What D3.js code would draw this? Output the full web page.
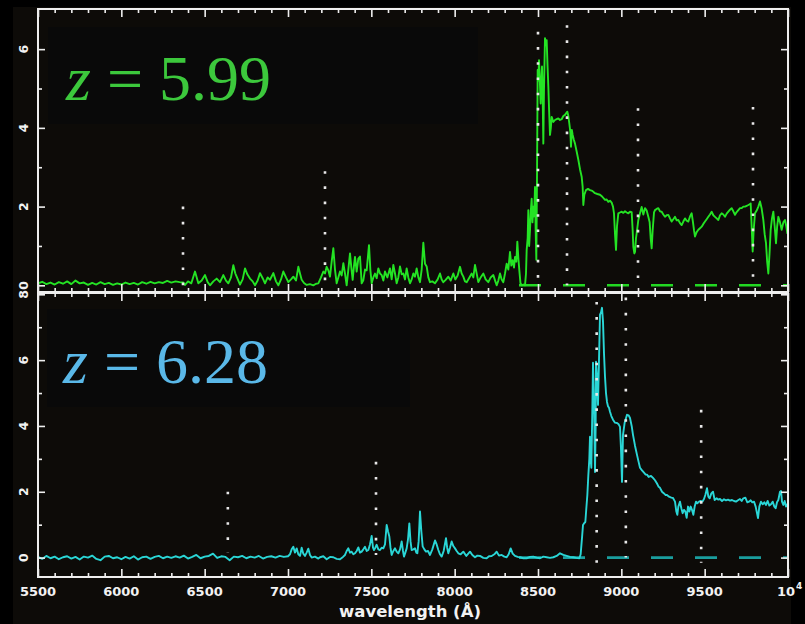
<!DOCTYPE html>
<html><head><meta charset="utf-8">
<script src="https://cdn.jsdelivr.net/npm/d3@7"></script>
<style>html,body{margin:0;padding:0;background:#000;}svg{display:block;}</style>
</head><body>
<svg id="chart" width="805" height="624"></svg>
<script>
// ---------------- DATA ----------------
const xMajorTicks = [5500, 6000, 6500, 7000, 7500, 8000, 8500, 9000, 9500, 10000];
const xTickLabels = ["5500", "6000", "6500", "7000", "7500", "8000", "8500", "9000", "9500", "10"];
const yTopMajor = [0, 2, 4, 6];
const yTopMinor = [1, 3, 5];
const yBotMajor = [0, 2, 4, 6, 8];
const yBotMinor = [1, 3, 5, 7];
const labelTop = {z: "z", rest: " = 5.99"};
const labelBot = {z: "z", rest: " = 6.28"};
const xTitle = "wavelength (Å)";

// spectral-line markers: [wavelength, bottom flux, top flux]
const linesTop = [[6370, 0.0, 2.0], [7222, 0.0, 2.9], [8500, 0.15, 6.44], [8674, 0.0, 6.61], [9100, 0.1, 4.5], [9790, 0.0, 4.53]];
const linesBot = [[6639, 0.15, 2.0], [7528, 0.08, 2.91], [8852, -0.16, 7.77], [9027, 0.0, 7.9], [9479, -0.16, 4.49]];
// zero-level dashed segment
const zeroTop = [[8386, 0], [10000, 0]];
const zeroBot = [[8386, 0], [10000, 0]];

// z = 5.99 spectrum: [wavelength (Å), flux]
const specTop = [
[5500,0.05],[5525,0.09],[5550,0.03],[5575,0.07],[5600,0.02],[5625,0.08],[5650,0.04],[5675,0.10],[5700,0.03],[5725,0.12],[5750,0.05],[5775,0.07],[5800,0.01],[5825,0.06],[5850,0.02],[5875,0.08],[5900,0.03],[5925,0.06],[5950,0.01],[5975,0.05],[6000,0.02],[6025,0.07],[6050,0.03],[6075,0.06],[6100,0.02],[6125,0.08],[6150,0.04],[6175,0.09],[6200,0.05],[6225,0.08],[6250,0.06],[6275,0.11],[6300,0.07],[6325,0.10],[6350,0.08],[6372,0.07],[6382,0.01],[6400,0.10],[6420,0.05],[6442,0.35],[6462,0.05],[6482,0.12],[6502,0.26],[6518,0.08],[6532,0.00],[6552,0.10],[6572,0.17],[6592,0.08],[6612,0.26],[6628,0.12],[6642,0.05],[6658,0.20],[6672,0.51],[6684,0.30],[6692,0.22],[6712,0.02],[6728,0.15],[6742,0.43],[6756,0.28],[6772,0.17],[6788,0.10],[6802,0.00],[6818,0.12],[6832,0.31],[6848,0.18],[6862,0.05],[6878,0.20],[6892,0.14],[6912,0.31],[6928,0.10],[6942,0.00],[6958,0.15],[6972,0.35],[6988,0.20],[7002,0.08],[7018,0.15],[7032,0.22],[7048,0.12],[7062,0.47],[7072,0.30],[7082,0.14],[7096,0.06],[7112,0.01],[7132,0.03],[7152,0.00],[7168,0.04],[7182,0.05],[7198,0.20],[7212,0.35],[7222,0.30],[7232,0.47],[7242,0.38],[7252,0.22],[7262,0.60],[7272,0.94],[7282,0.40],[7292,0.05],[7302,0.20],[7312,0.35],[7322,0.25],[7332,0.56],[7342,0.30],[7352,0.00],[7362,0.40],[7372,0.81],[7380,0.45],[7388,0.14],[7396,0.50],[7402,0.72],[7412,0.35],[7422,0.68],[7432,0.73],[7442,0.05],[7452,0.13],[7462,0.40],[7472,0.38],[7486,1.02],[7494,0.40],[7502,0.05],[7512,0.20],[7522,0.30],[7532,0.18],[7542,0.43],[7552,0.30],[7562,0.26],[7572,0.12],[7582,0.35],[7596,0.20],[7612,0.43],[7622,0.15],[7632,0.52],[7642,0.30],[7652,0.05],[7662,0.20],[7672,0.48],[7682,0.28],[7692,0.30],[7702,0.15],[7712,0.43],[7722,0.20],[7732,0.05],[7742,0.15],[7752,0.30],[7762,0.22],[7772,0.43],[7782,0.20],[7792,0.08],[7802,0.40],[7812,1.08],[7822,0.55],[7832,0.48],[7842,0.20],[7852,0.08],[7866,0.10],[7882,0.05],[7898,0.15],[7912,0.30],[7922,0.15],[7932,0.08],[7946,0.14],[7962,0.22],[7976,0.12],[7992,0.30],[8004,0.15],[8018,0.25],[8032,0.47],[8042,0.30],[8052,0.22],[8062,0.10],[8072,0.08],[8086,0.18],[8102,0.30],[8112,0.20],[8122,0.52],[8132,0.30],[8142,0.08],[8156,0.20],[8172,0.30],[8186,0.15],[8202,0.08],[8216,0.20],[8232,0.26],[8244,0.10],[8252,0.00],[8262,0.12],[8272,0.30],[8282,0.15],[8292,0.08],[8302,0.30],[8312,0.55],[8322,0.40],[8332,0.85],[8340,0.50],[8348,0.64],[8356,0.45],[8362,0.72],[8370,0.60],[8376,1.11],[8382,0.70],[8388,0.38],[8395,0.05],[8402,0.00],[8412,0.02],[8422,0.00],[8428,0.30],[8432,0.90],[8438,1.20],[8442,1.91],[8447,1.00],[8452,1.40],[8457,1.90],[8462,2.20],[8467,1.60],[8472,2.00],[8477,1.75],[8482,2.50],[8486,1.40],[8490,0.65],[8494,2.68],[8498,5.47],[8502,5.20],[8506,5.72],[8510,5.30],[8516,4.62],[8520,5.20],[8524,5.56],[8528,4.80],[8532,3.60],[8536,5.00],[8542,6.28],[8547,6.10],[8552,6.23],[8557,5.60],[8562,5.05],[8567,4.40],[8572,3.82],[8577,4.00],[8582,4.28],[8592,4.15],[8602,4.20],[8612,4.22],[8622,4.24],[8632,4.20],[8642,4.22],[8652,4.30],[8662,4.33],[8670,4.38],[8676,4.41],[8682,4.30],[8688,4.11],[8694,3.90],[8698,3.52],[8703,3.95],[8708,3.82],[8715,3.70],[8722,3.60],[8732,3.40],[8742,3.19],[8752,2.95],[8762,2.76],[8768,2.50],[8772,2.04],[8778,2.30],[8788,2.42],[8800,2.45],[8812,2.42],[8826,2.40],[8842,2.34],[8856,2.32],[8872,2.30],[8886,2.25],[8902,2.17],[8912,2.18],[8922,2.12],[8932,2.15],[8942,2.10],[8950,2.00],[8956,1.83],[8962,1.30],[8968,0.90],[8974,1.50],[8982,1.83],[8992,1.85],[9002,1.87],[9012,1.84],[9022,1.88],[9032,1.85],[9042,1.83],[9052,1.87],[9062,1.86],[9068,1.40],[9072,0.98],[9078,0.81],[9082,0.85],[9088,1.20],[9092,1.32],[9102,1.66],[9112,1.83],[9122,1.99],[9132,1.80],[9142,1.96],[9152,1.90],[9162,1.74],[9170,1.60],[9176,1.20],[9182,0.94],[9188,1.40],[9196,1.85],[9202,1.91],[9212,1.94],[9222,1.96],[9232,1.88],[9242,1.87],[9252,1.80],[9262,1.74],[9272,1.78],[9282,1.79],[9292,1.70],[9302,1.62],[9312,1.68],[9322,1.74],[9332,1.65],[9342,1.66],[9352,1.58],[9362,1.53],[9372,1.62],[9382,1.70],[9392,1.64],[9402,1.62],[9412,1.75],[9422,1.83],[9430,1.60],[9436,1.40],[9442,1.24],[9452,1.35],[9462,1.41],[9472,1.45],[9482,1.49],[9492,1.56],[9502,1.62],[9512,1.68],[9522,1.74],[9532,1.80],[9542,1.87],[9552,1.78],[9562,1.74],[9572,1.70],[9582,1.66],[9592,1.78],[9602,1.83],[9612,1.80],[9622,1.74],[9632,1.82],[9642,1.87],[9652,1.92],[9662,1.96],[9672,1.88],[9682,1.79],[9692,1.86],[9702,1.91],[9712,1.96],[9722,1.96],[9732,2.00],[9742,2.00],[9752,2.02],[9762,2.04],[9770,2.06],[9776,2.08],[9782,1.50],[9788,0.86],[9794,1.40],[9802,1.83],[9812,1.90],[9822,2.00],[9832,2.13],[9842,1.95],[9852,1.66],[9860,1.30],[9868,1.07],[9875,0.60],[9882,0.30],[9889,0.80],[9896,1.41],[9904,1.70],[9912,1.87],[9920,1.50],[9928,1.07],[9935,1.50],[9942,1.74],[9952,1.60],[9962,1.41],[9972,1.60],[9982,1.66],[9990,1.50],[9996,1.32],[10000,1.50]
];

// z = 6.28 spectrum: [wavelength (Å), flux]
const specBot = [
[5500,0.02],[5525,-0.04],[5550,0.05],[5575,-0.02],[5600,0.03],[5625,-0.05],[5650,0.01],[5675,0.04],[5700,-0.03],[5725,0.02],[5750,-0.06],[5775,0.03],[5800,0.00],[5825,0.06],[5850,-0.04],[5875,-0.08],[5900,0.03],[5925,0.05],[5950,-0.02],[5975,0.01],[6000,-0.05],[6025,0.02],[6050,-0.03],[6075,0.04],[6100,-0.06],[6125,0.01],[6150,0.03],[6175,-0.04],[6200,0.02],[6225,0.05],[6250,-0.02],[6275,0.03],[6300,-0.01],[6325,0.04],[6350,0.00],[6375,0.06],[6400,-0.03],[6425,0.02],[6450,0.08],[6475,-0.02],[6500,0.03],[6525,0.05],[6550,0.12],[6575,-0.01],[6600,0.04],[6625,0.02],[6650,-0.08],[6675,0.03],[6700,0.01],[6725,0.05],[6750,-0.02],[6775,0.03],[6800,0.00],[6825,0.05],[6850,-0.03],[6875,0.02],[6900,0.04],[6925,0.00],[6950,0.05],[6975,0.02],[7000,0.04],[7012,0.10],[7022,0.25],[7032,0.33],[7042,0.15],[7052,0.28],[7062,0.10],[7072,0.05],[7082,0.30],[7092,0.12],[7102,0.05],[7112,0.15],[7122,0.27],[7132,0.08],[7142,0.00],[7162,0.03],[7182,-0.03],[7192,0.01],[7212,0.04],[7232,-0.05],[7252,0.02],[7272,0.01],[7292,-0.04],[7312,-0.05],[7330,0.02],[7342,0.08],[7352,0.20],[7362,0.28],[7372,0.15],[7382,0.18],[7392,0.10],[7402,0.13],[7412,0.20],[7422,0.31],[7432,0.15],[7442,0.18],[7452,0.25],[7462,0.33],[7472,0.20],[7482,0.23],[7492,0.40],[7502,0.66],[7510,0.30],[7516,0.23],[7524,0.30],[7532,0.39],[7542,0.25],[7552,0.23],[7562,0.30],[7572,0.28],[7582,0.40],[7592,0.99],[7600,0.80],[7608,0.64],[7615,0.30],[7622,0.08],[7632,0.20],[7642,0.28],[7652,0.18],[7662,0.13],[7672,0.25],[7682,0.49],[7690,0.20],[7696,0.03],[7704,0.15],[7712,0.28],[7720,0.55],[7728,1.04],[7735,0.50],[7742,0.23],[7752,0.25],[7762,0.28],[7770,0.15],[7776,0.13],[7784,0.50],[7792,1.40],[7800,0.80],[7808,0.34],[7818,0.25],[7828,0.18],[7840,0.20],[7852,0.08],[7866,0.25],[7882,0.52],[7892,0.40],[7902,0.23],[7912,0.10],[7922,0.03],[7934,0.20],[7948,0.59],[7955,0.30],[7962,0.13],[7972,0.30],[7982,0.49],[7992,0.35],[8002,0.28],[8012,0.20],[8022,0.13],[8036,0.10],[8052,0.18],[8070,0.05],[8092,0.18],[8106,0.08],[8122,0.01],[8136,0.06],[8152,0.05],[8172,-0.01],[8192,-0.02],[8206,0.04],[8222,0.05],[8238,0.10],[8252,0.18],[8266,0.06],[8282,0.08],[8298,0.03],[8312,0.01],[8324,0.10],[8336,0.28],[8348,0.12],[8362,0.05],[8378,0.02],[8392,0.01],[8412,-0.02],[8432,-0.02],[8452,0.02],[8472,0.03],[8492,0.00],[8512,-0.02],[8532,0.03],[8552,0.01],[8572,-0.01],[8592,0.01],[8612,0.05],[8632,0.13],[8652,0.08],[8672,0.05],[8692,0.02],[8712,0.01],[8730,-0.01],[8748,-0.02],[8756,0.10],[8764,0.60],[8770,0.99],[8778,1.05],[8784,1.08],[8790,1.50],[8796,1.90],[8802,2.50],[8808,3.00],[8812,3.67],[8816,3.00],[8820,2.73],[8826,4.50],[8830,5.92],[8836,4.80],[8842,2.60],[8846,4.00],[8848,5.95],[8854,5.50],[8860,4.64],[8866,6.00],[8872,7.38],[8878,7.45],[8884,7.59],[8890,7.17],[8896,6.20],[8902,5.50],[8908,5.00],[8914,4.73],[8920,4.60],[8926,4.55],[8932,4.43],[8940,4.30],[8950,4.19],[8962,4.10],[8974,4.09],[8984,4.05],[8992,3.97],[8998,3.30],[9004,2.30],[9010,3.73],[9020,4.10],[9034,4.34],[9044,4.32],[9052,4.24],[9062,4.00],[9070,3.73],[9082,3.40],[9094,3.12],[9104,2.90],[9112,2.73],[9124,2.65],[9136,2.58],[9146,2.52],[9154,2.52],[9164,2.45],[9178,2.48],[9190,2.42],[9202,2.35],[9214,2.25],[9224,2.15],[9232,2.12],[9244,2.00],[9256,1.95],[9266,1.90],[9274,1.90],[9286,1.85],[9300,1.82],[9310,1.81],[9322,1.70],[9330,1.40],[9336,1.30],[9342,1.55],[9352,1.70],[9360,1.50],[9368,1.35],[9376,1.45],[9384,1.40],[9392,1.21],[9400,1.55],[9408,1.40],[9416,1.55],[9424,1.45],[9432,1.30],[9440,1.55],[9448,1.70],[9456,1.65],[9466,1.70],[9476,1.72],[9486,1.70],[9496,1.78],[9504,1.90],[9514,2.11],[9522,1.85],[9530,1.80],[9540,1.95],[9550,2.00],[9560,1.75],[9572,1.80],[9582,1.76],[9592,1.78],[9604,1.72],[9616,1.77],[9628,1.74],[9640,1.76],[9652,1.73],[9664,1.75],[9676,1.72],[9688,1.70],[9700,1.74],[9712,1.78],[9722,1.72],[9732,1.80],[9744,1.82],[9756,1.68],[9766,1.70],[9776,1.74],[9786,1.68],[9796,1.70],[9806,1.55],[9814,1.35],[9820,1.20],[9828,1.55],[9838,1.70],[9848,1.62],[9858,1.68],[9868,1.60],[9878,1.72],[9888,1.58],[9898,1.62],[9908,1.70],[9918,1.55],[9926,1.50],[9934,1.68],[9942,1.75],[9952,2.00],[9958,2.02],[9964,1.70],[9972,1.60],[9980,1.72],[9988,1.55],[9996,1.62],[10000,1.58]
];

// ---------------- DRAW ----------------
const svg = d3.select("#chart");
const L = 38, R = 788;
const x = d3.scaleLinear().domain([5500, 10000]).range([L, R]);
const yT = d3.scaleLinear().domain([-0.17, 7.02]).range([292, 9]);
const yB = d3.scaleLinear().domain([-0.59, 8.04]).range([577, 293]);

const FRAME = "#eeeeee";
const TXT = "#f2f2f2";
const AX_FONT = "'DejaVu Sans', sans-serif";

// figure background
svg.append("rect").attr("x", 13).attr("y", 7).attr("width", 778).attr("height", 617).attr("fill", "#0d0b08");

// label boxes
svg.append("rect").attr("x", 48).attr("y", 27).attr("width", 430).attr("height", 97).attr("fill", "#090909");
svg.append("rect").attr("x", 47).attr("y", 309).attr("width", 363).attr("height", 98).attr("fill", "#090909");

function panel(y, spec, zero, lines, specColor, zeroColor, clipId) {
  const [y0, y1] = y.range();
  svg.append("clipPath").attr("id", clipId).append("rect")
    .attr("x", L).attr("y", y1).attr("width", R - L).attr("height", y0 - y1);
  const g = svg.append("g").attr("clip-path", `url(#${clipId})`);
  const line = d3.line().x(d => x(d[0])).y(d => y(d[1]));
  g.append("path").datum(zero).attr("d", line)
    .attr("fill", "none").attr("stroke", zeroColor).attr("stroke-width", 2.6)
    .attr("stroke-dasharray", "22,22");
  g.append("path").datum(spec).attr("d", line)
    .attr("fill", "none").attr("stroke", specColor).attr("stroke-width", 1.9)
    .attr("stroke-linejoin", "round");
  g.selectAll("line.mark").data(lines).join("line").attr("class", "mark")
    .attr("x1", d => x(d[0])).attr("x2", d => x(d[0]))
    .attr("y1", d => y(d[2])).attr("y2", d => y(d[1]))
    .attr("stroke", "#e8e8e8").attr("stroke-width", 2.6)
    .attr("stroke-dasharray", "2.6,12.6");
}
panel(yT, specTop, zeroTop, linesTop, "#24e324", "#22d822", "clipT");
panel(yB, specBot, zeroBot, linesBot, "#2ad6d6", "#1a9e9e", "clipB");

// ticks via axes
function styleAxis(sel) {
  sel.select(".domain").remove();
  sel.selectAll(".tick line").attr("stroke", FRAME).attr("stroke-width", 1.6);
  sel.selectAll(".tick text").remove();
}
const minorX = d3.range(5500, 10001, 100).filter(v => v % 500 !== 0);
function xAxes(y) {
  const [y0, y1] = y.range();
  svg.append("g").attr("transform", `translate(0,${y0})`)
    .call(d3.axisBottom(x).tickValues(xMajorTicks).tickSize(-8)).call(styleAxis);
  svg.append("g").attr("transform", `translate(0,${y0})`)
    .call(d3.axisBottom(x).tickValues(minorX).tickSize(-4)).call(styleAxis);
  svg.append("g").attr("transform", `translate(0,${y1})`)
    .call(d3.axisTop(x).tickValues(xMajorTicks).tickSize(-8)).call(styleAxis);
  svg.append("g").attr("transform", `translate(0,${y1})`)
    .call(d3.axisTop(x).tickValues(minorX).tickSize(-4)).call(styleAxis);
}
function yAxes(y, major, minor) {
  svg.append("g").attr("transform", `translate(${L},0)`)
    .call(d3.axisLeft(y).tickValues(major).tickSize(-7)).call(styleAxis);
  svg.append("g").attr("transform", `translate(${L},0)`)
    .call(d3.axisLeft(y).tickValues(minor).tickSize(-4)).call(styleAxis);
  svg.append("g").attr("transform", `translate(${R},0)`)
    .call(d3.axisRight(y).tickValues(major).tickSize(-7)).call(styleAxis);
  svg.append("g").attr("transform", `translate(${R},0)`)
    .call(d3.axisRight(y).tickValues(minor).tickSize(-4)).call(styleAxis);
  // rotated labels
  svg.append("g").selectAll("text").data(major).join("text")
    .attr("transform", d => `translate(23,${y(d)}) rotate(-90)`)
    .attr("text-anchor", "middle").attr("dominant-baseline", "central")
    .attr("font-family", AX_FONT).attr("font-weight", "bold").attr("font-size", 12.5)
    .attr("fill", TXT).text(d => d);
}
xAxes(yT); xAxes(yB);
yAxes(yT, yTopMajor, yTopMinor);
yAxes(yB, yBotMajor, yBotMinor);

// frames
[yT, yB].forEach(y => {
  const [y0, y1] = y.range();
  svg.append("rect").attr("x", L).attr("y", y1).attr("width", R - L).attr("height", y0 - y1)
    .attr("fill", "none").attr("stroke", FRAME).attr("stroke-width", 2);
});

// x tick labels
svg.append("g").selectAll("text").data(xMajorTicks).join("text")
  .attr("x", (d, i) => i === xMajorTicks.length - 1 ? x(d) - 2 : x(d))
  .attr("y", 596)
  .attr("text-anchor", "middle")
  .attr("font-family", AX_FONT).attr("font-weight", "bold").attr("font-size", 13)
  .attr("fill", TXT).text((d, i) => xTickLabels[i]);
svg.append("text").attr("x", x(10000) + 8).attr("y", 589)
  .attr("font-family", AX_FONT).attr("font-weight", "bold").attr("font-size", 9)
  .attr("fill", TXT).text("4");

// x title
svg.append("text").attr("x", 410).attr("y", 617).attr("text-anchor", "middle")
  .attr("font-family", AX_FONT).attr("font-weight", "bold").attr("font-size", 16.5)
  .attr("fill", TXT).text(xTitle);

// redshift labels
function zLabel(xp, yp, lab, color) {
  const t = svg.append("text").attr("x", xp).attr("y", yp)
    .attr("font-family", "'Liberation Serif', 'Times New Roman', serif").attr("font-size", 64)
    .attr("fill", color);
  t.append("tspan").attr("font-style", "italic").text(lab.z);
  t.append("tspan").text(lab.rest);
}
zLabel(66, 100, labelTop, "#3cc83c");
zLabel(63, 383, labelBot, "#5ab8e8");
</script>
</body></html>
